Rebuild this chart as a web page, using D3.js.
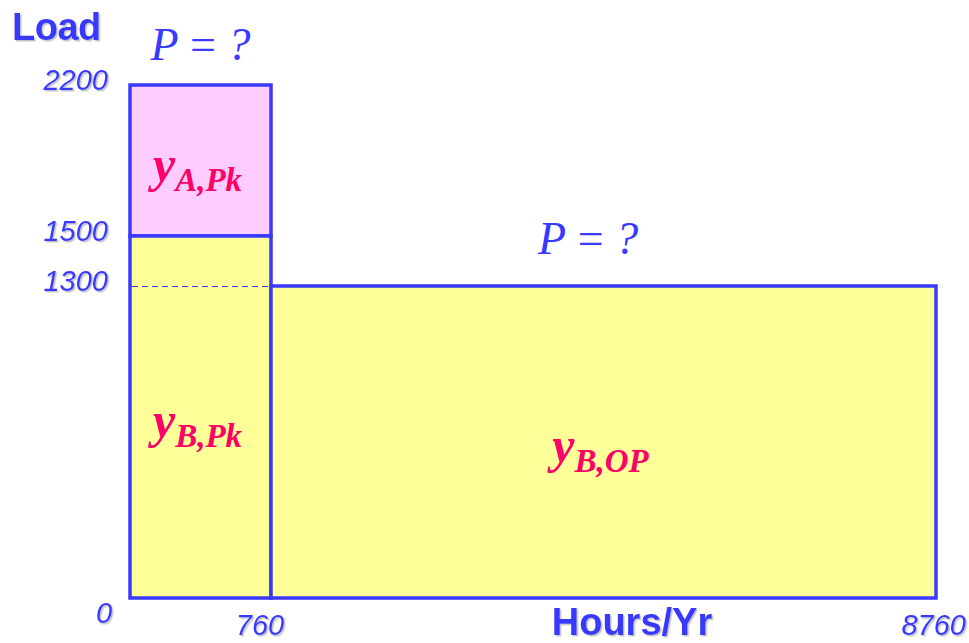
<!DOCTYPE html>
<html>
<head>
<meta charset="utf-8">
<script src="https://cdn.jsdelivr.net/npm/d3@7"></script>
<style>
  body { margin: 0; background: #fff; }
  svg { display: block; }
</style>
</head>
<body>
<div id="chart"></div>
<script>
// values
const hourTicks = [0, 760, 8760]
const loadTicks = [0, 1300, 1500, 2200]
const blockNames = ['A,Pk', 'B,Pk', 'B,OP']
const blockHourStart = [0, 0, 760]
const blockHourEnd = [760, 760, 8760]
const blockLoadLow = [1500, 0, 0]
const blockLoadHigh = [2200, 1500, 1300]
const blockFill = ['#ffccff', '#ffff99', '#ffff99']
const priceLabels = ['P = ?', 'P = ?']
const priceHour = [380, 4575]
const priceLoad = [2200, 1300]

const width = 969, height = 643
const blue = '#3939ff', red = '#ff0066'

// the drawing isn't to scale, so use piecewise scales
const x = d3.scaleLinear().domain(hourTicks).range([130, 271, 936])
const y = d3.scaleLinear().domain(loadTicks).range([598, 286, 236, 85])

const svg = d3.select('#chart').append('svg')
    .attr('width', width).attr('height', height)

const defs = svg.append('defs')
defs.append('filter').attr('id', 'shadow')
    .attr('x', '-10%').attr('y', '-10%').attr('width', '130%').attr('height', '140%')
  .append('feDropShadow')
    .attr('dx', 1.5).attr('dy', 1.5).attr('stdDeviation', 0.5)
    .attr('flood-color', '#aaa').attr('flood-opacity', 0.7)

const blocks = blockNames.map((name, i) => ({
  name, x0: blockHourStart[i], x1: blockHourEnd[i],
  y0: blockLoadLow[i], y1: blockLoadHigh[i], fill: blockFill[i]
}))

svg.selectAll('rect.block')
  .data(blocks)
  .join('rect')
    .attr('class', 'block')
    .attr('x', d => x(d.x0))
    .attr('y', d => y(d.y1))
    .attr('width', d => x(d.x1) - x(d.x0))
    .attr('height', d => y(d.y0) - y(d.y1))
    .attr('fill', d => d.fill)
    .attr('stroke', blue)
    .attr('stroke-width', 3.5)

// dashed guide at 1300 across the peak column
svg.append('line')
    .attr('x1', x(0) + 2).attr('x2', x(760) - 2)
    .attr('y1', y(1300) + 0.5).attr('y2', y(1300) + 0.5)
    .attr('stroke', blue).attr('stroke-width', 1)
    .attr('stroke-dasharray', '6,4')

// block labels y_{...}
const lab = svg.selectAll('text.blk')
  .data(blocks)
  .join('text')
    .attr('class', 'blk')
    .attr('x', d => (x(d.x0) + x(d.x1)) / 2 - 3)
    .attr('y', d => (y(d.y0) + y(d.y1)) / 2 + 20)
    .attr('text-anchor', 'middle')
    .attr('font-family', '"Liberation Serif", "Times New Roman", serif')
    .attr('font-style', 'italic')
    .attr('font-weight', 'bold')
    .attr('fill', red)
lab.append('tspan').attr('font-size', 50).text('y')
lab.append('tspan').attr('font-size', 33).attr('dy', 10).text(d => d.name)

// y tick labels
svg.selectAll('text.ytick')
  .data(loadTicks.filter(d => d > 0))
  .join('text')
    .attr('class', 'ytick')
    .attr('x', 108)
    .attr('y', d => y(d) + 5)
    .attr('text-anchor', 'end')
    .attr('font-family', '"Liberation Sans", Arial, sans-serif')
    .attr('font-style', 'italic')
    .attr('font-size', 29)
    .attr('fill', blue)
    .attr('filter', 'url(#shadow)')
    .text(d => d)

// x tick labels
const xLab = [
  {v: 0, px: 104, anchor: 'middle', by: 623},
  {v: 760, px: x(760) - 11, anchor: 'middle', by: 635},
  {v: 8760, px: 966, anchor: 'end', by: 635}
]
svg.selectAll('text.xtick')
  .data(xLab)
  .join('text')
    .attr('class', 'xtick')
    .attr('x', d => d.px)
    .attr('y', d => d.by)
    .attr('text-anchor', d => d.anchor)
    .attr('font-family', '"Liberation Sans", Arial, sans-serif')
    .attr('font-style', 'italic')
    .attr('font-size', 29)
    .attr('fill', blue)
    .attr('filter', 'url(#shadow)')
    .text(d => d.v)

// axis titles
svg.append('text')
    .attr('x', 12).attr('y', 40)
    .attr('font-family', '"Liberation Sans", Arial, sans-serif')
    .attr('font-weight', 'bold').attr('font-size', 38)
    .attr('letter-spacing', -0.5)
    .attr('fill', blue).attr('filter', 'url(#shadow)')
    .text('Load')

svg.append('text')
    .attr('x', 632).attr('y', 635)
    .attr('text-anchor', 'middle')
    .attr('font-family', '"Liberation Sans", Arial, sans-serif')
    .attr('font-weight', 'bold').attr('font-size', 38)
    .attr('fill', blue).attr('filter', 'url(#shadow)')
    .text('Hours/Yr')

// price question marks
const priceOffset = [-25, -32]
svg.selectAll('text.price')
  .data(priceLabels.map((t, i) => ({t, h: priceHour[i], l: priceLoad[i], off: priceOffset[i]})))
  .join('text')
    .attr('class', 'price')
    .attr('x', d => x(d.h))
    .attr('y', d => y(d.l) + d.off)
    .attr('text-anchor', 'middle')
    .attr('font-family', '"Liberation Serif", "Times New Roman", serif')
    .attr('font-size', 46)
    .attr('fill', blue)
    .each(function (d) {
      const t = d3.select(this)
      t.append('tspan').attr('font-style', 'italic').text('P')
      t.append('tspan').text(' = ')
      t.append('tspan').attr('font-style', 'italic').text('?')
    })
</script>
</body>
</html>
